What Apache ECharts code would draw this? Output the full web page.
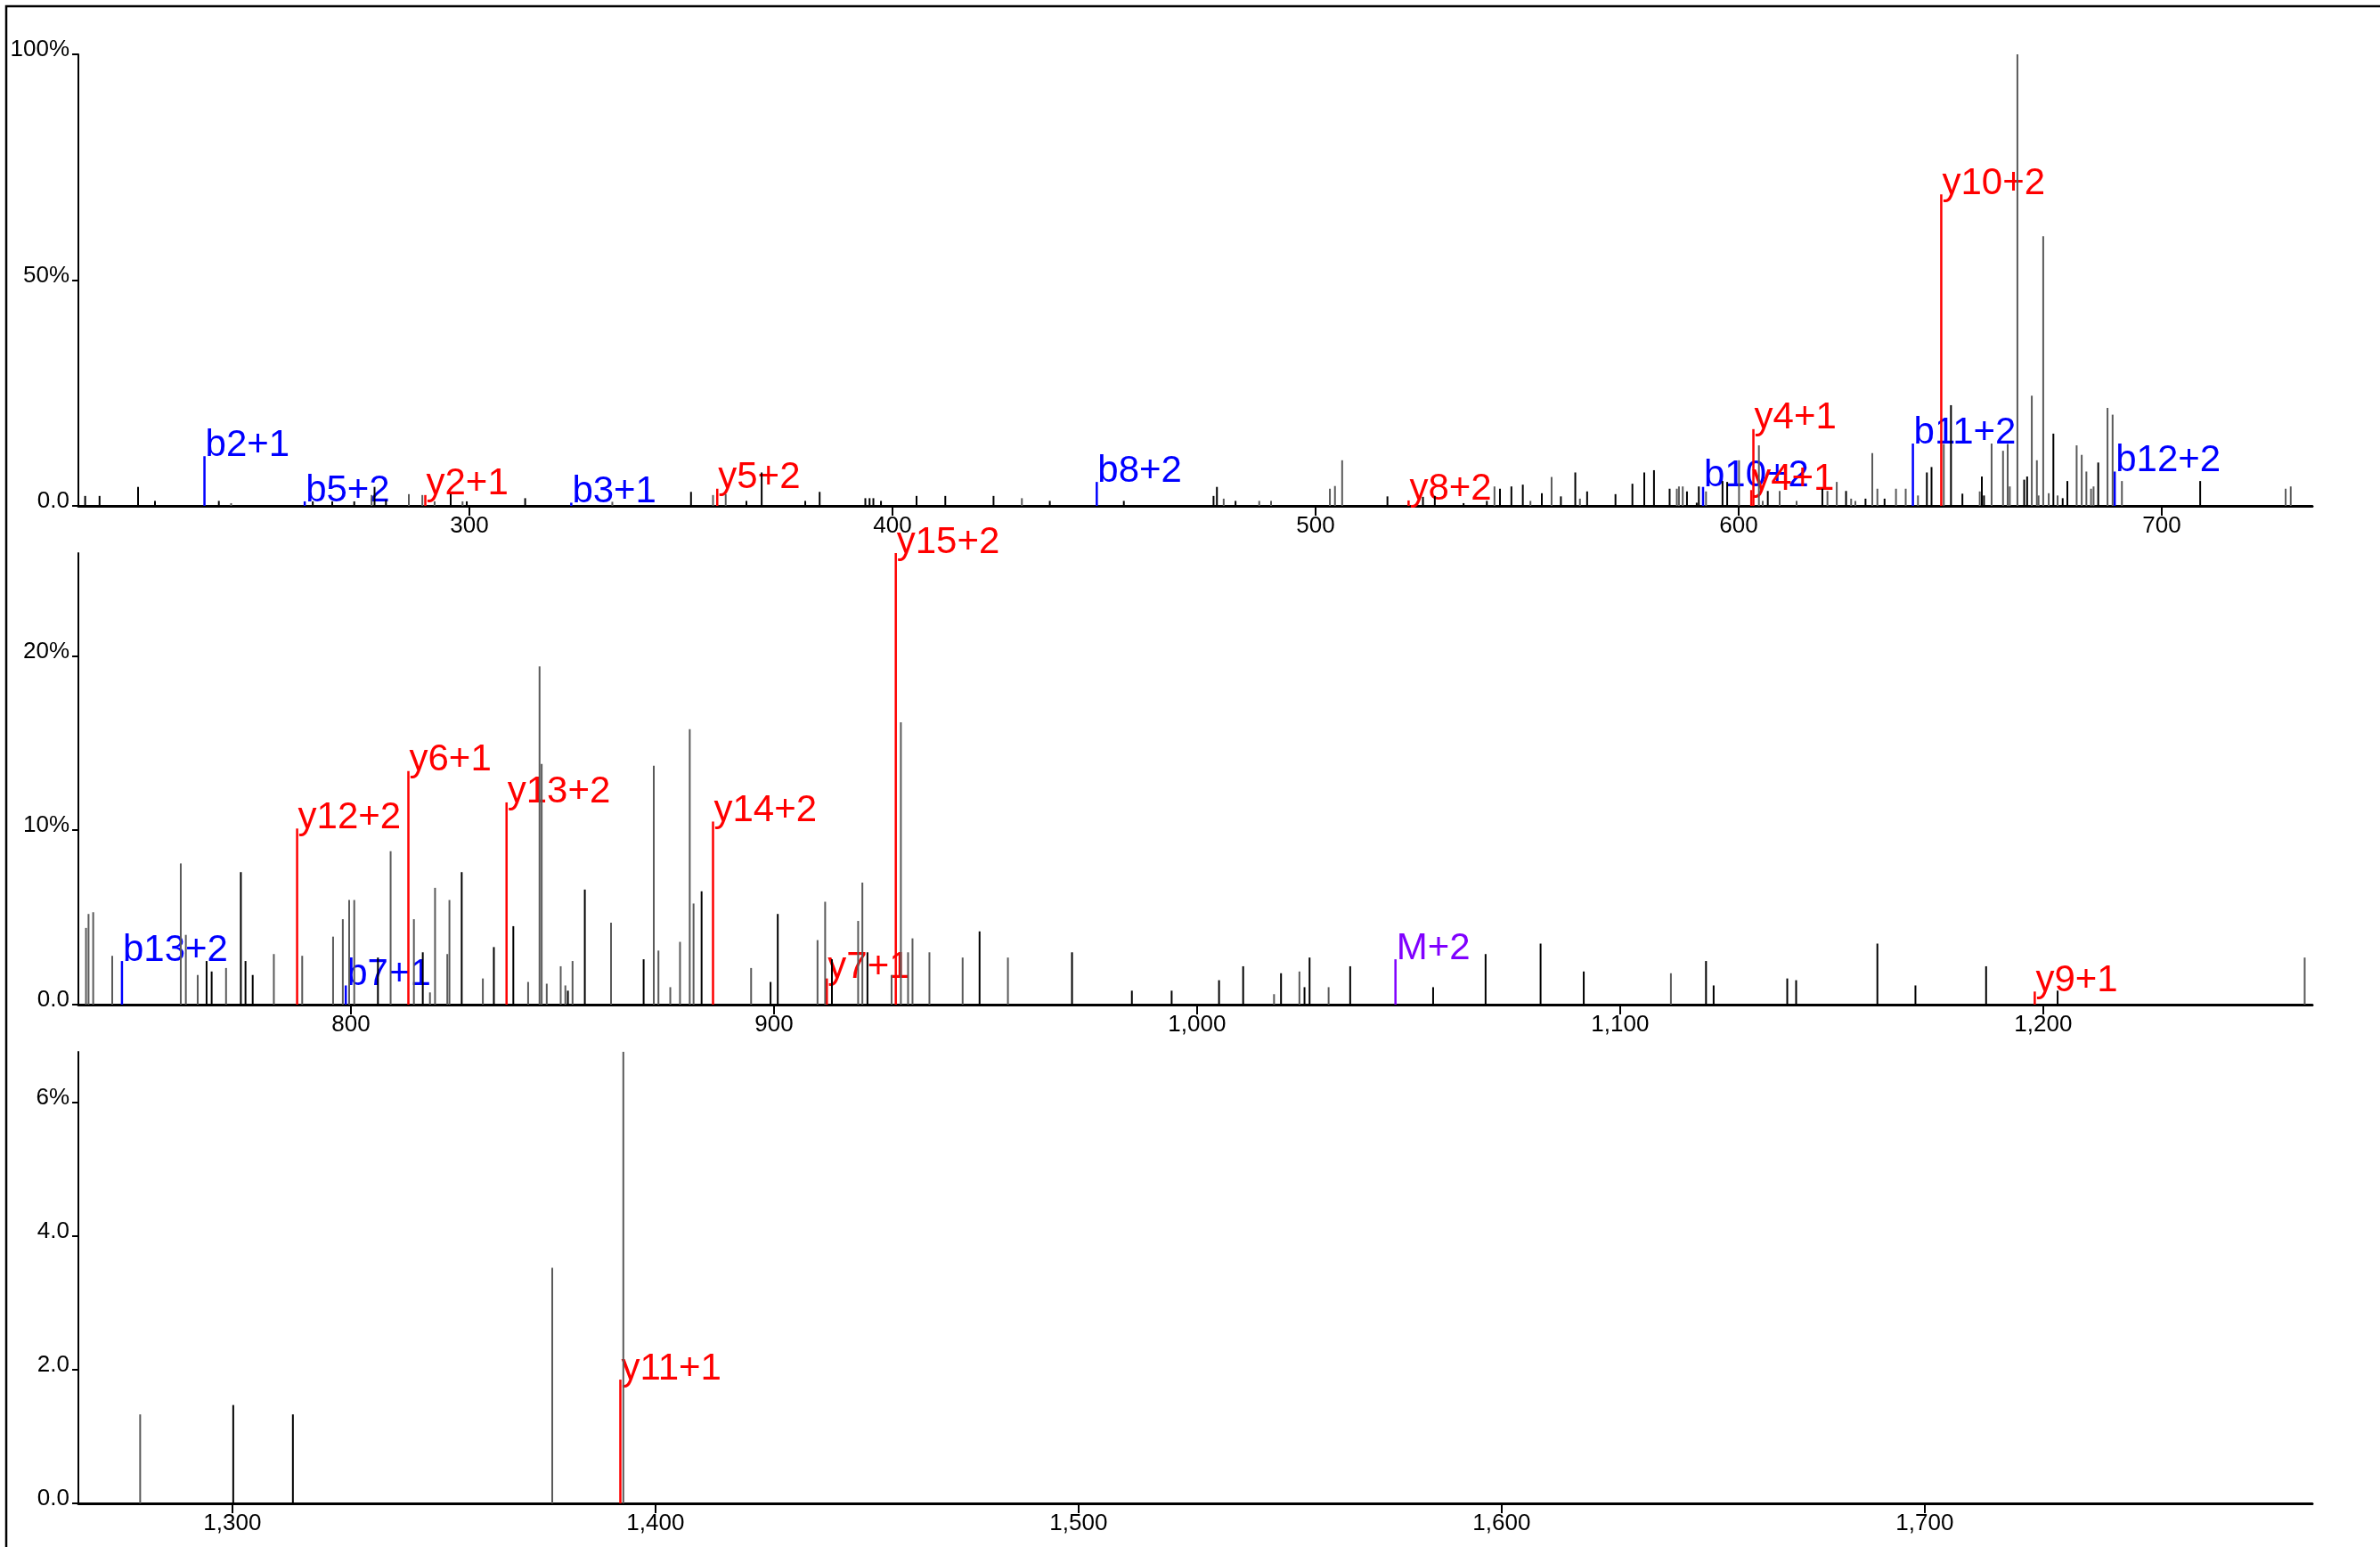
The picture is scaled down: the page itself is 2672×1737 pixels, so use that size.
<!DOCTYPE html>
<html>
<head>
<meta charset="utf-8">
<script src="https://cdn.jsdelivr.net/npm/echarts@6/dist/echarts.min.js"></script>
<style>
html,body{margin:0;padding:0;background:#ffffff;}
#chart{width:2672px;height:1737px;}
</style>
</head>
<body>
<div id="chart"></div>
<script>
// ---------- DATA ----------
// Unannotated peaks: m/z, relative intensity (% of base peak), shade (0 = black, 1 = gray)
const peakMz = [
  209.2,212.6,221.7,225.7,240.8,243.7,263.0,267.6,272.8,276.9,277.6,280.3,285.7,288.9,291.8,295.6,298.4,299.4,
  313.2,333.8,352.4,357.6,360.6,365.5,369.1,379.4,382.8,393.6,394.6,395.5,397.3,405.7,412.5,423.9,430.6,437.2,
  454.7,475.9,476.7,478.3,481.1,486.7,489.5,503.4,504.6,506.3,517.0,525.4,528.2,535.0,540.5,542.3,543.6,546.3,
  549.0,550.8,553.5,555.8,558.0,561.4,562.5,564.2,570.9,574.9,577.7,580.0,583.7,585.4,585.9,586.8,587.8,590.1,
  590.6,592.3,596.2,597.3,600.1,604.8,605.7,606.9,609.7,613.7,619.8,621.0,623.2,625.4,626.6,627.6,630.0,631.6,
  632.8,634.5,637.2,639.5,642.4,644.5,645.6,648.5,650.2,652.9,657.0,657.5,658.0,659.8,662.5,663.6,664.1,665.9,
  667.5,668.2,669.3,670.5,670.9,672.0,673.3,674.4,675.4,676.6,677.7,679.9,681.1,682.2,683.3,683.9,685.0,687.2,
  688.4,690.6,709.1,729.3,730.5,
  737.4,738.0,739.1,743.6,759.8,761.0,763.8,765.9,767.1,770.5,774.0,775.1,776.8,781.8,788.5,795.8,798.1,799.6,
  800.8,806.4,809.4,814.9,817.0,818.7,819.9,822.8,823.3,826.2,831.2,833.8,838.4,841.9,844.6,845.1,846.3,849.6,
  850.7,851.3,852.4,855.3,861.5,869.2,871.6,872.7,875.5,877.8,880.1,881.0,882.9,894.6,899.2,900.9,910.3,912.1,
  913.7,919.9,920.9,922.1,927.8,930.0,931.7,932.75,936.75,944.6,948.6,955.3,970.45,984.6,994.0,1005.2,1010.9,
  1018.2,1019.85,1024.2,1025.4,1026.6,1031.1,1036.2,1055.8,1068.2,1081.2,1091.4,1112.0,1120.3,1122.1,1139.5,
  1141.6,1160.8,1169.8,1186.5,1203.4,1261.8,
  1278.2,1300.2,1314.3,1375.6,1392.4
];
const peakInt = [
  2.2,2.2,4.2,1.1,1.1,0.6,1.0,1.0,1.0,2.4,4.2,1.3,2.6,2.4,1.0,2.6,1.0,1.0,
  1.7,0.9,3.1,2.4,2.6,1.1,7.4,1.1,3.1,1.7,1.7,1.7,1.1,2.2,2.2,2.2,1.7,1.1,
  1.1,2.2,4.2,1.6,1.1,1.1,1.1,3.8,4.4,10.1,2.1,2.0,2.2,0.6,1.1,4.3,3.8,4.3,
  4.7,1.1,2.8,6.4,2.1,7.4,1.6,3.2,2.6,4.9,7.4,7.9,3.8,3.8,4.3,4.3,3.2,0.7,
  4.3,3.2,5.5,5.3,10.1,13.4,1.1,3.3,3.3,1.1,3.8,3.3,5.3,3.3,1.6,1.1,1.6,11.7,
  3.8,1.6,3.8,3.8,2.3,7.4,8.6,13.7,22.3,2.7,3.2,6.5,2.3,13.8,12.2,13.7,4.3,100,
  5.8,6.5,24.4,10.1,2.3,59.7,2.8,16.0,2.3,1.7,5.5,13.4,11.3,7.6,3.8,4.3,9.6,21.7,
  20.2,5.5,5.5,3.8,4.3,
  4.4,5.2,5.3,2.8,8.1,4.0,1.7,2.5,1.9,2.1,7.6,2.5,1.7,2.9,2.8,3.9,4.9,6.0,
  6.0,2.7,8.8,4.9,3.0,0.7,6.7,2.9,6.0,7.6,1.5,3.3,4.5,1.3,19.4,13.8,1.2,2.2,
  1.1,0.8,2.5,6.6,4.7,2.6,13.7,3.1,1.0,3.6,15.8,5.8,6.5,2.1,1.3,5.2,3.7,5.9,
  2.6,4.8,7.0,3.0,1.7,16.2,3.0,3.8,3.0,2.7,4.2,2.7,3.0,0.8,0.8,1.4,2.2,
  0.6,1.8,1.9,1.0,2.7,1.0,2.2,1.0,2.9,3.5,1.9,1.8,2.5,1.1,1.5,
  1.4,3.5,1.1,2.2,0.8,2.7,
  1.33,1.47,1.33,3.52,6.75
];
const peakShade = [
  0,0,0,0,0,1,0,0,0,1,0,0,1,1,1,0,1,0,
  0,1,0,1,1,0,0,0,0,0,0,0,0,0,0,0,1,0,
  0,0,0,1,0,1,1,1,1,1,0,0,0,0,0,1,0,0,
  0,1,0,1,0,0,1,0,0,0,0,0,0,1,1,1,0,0,
  0,1,0,0,1,1,1,0,1,1,0,1,1,0,1,1,0,1,
  1,0,1,1,1,0,0,1,0,0,1,0,0,1,1,1,1,1,
  0,0,1,1,1,1,1,0,1,0,0,1,1,1,1,1,0,1,
  1,1,0,1,1,
  1,1,1,1,1,1,1,0,0,1,0,0,0,1,1,1,1,1,
  1,0,1,1,0,1,1,1,1,0,1,0,0,1,1,1,1,1,
  1,0,1,0,1,0,1,1,1,1,1,1,0,1,0,0,1,1,
  0,1,1,0,1,1,1,1,1,1,0,1,0,0,0,0,0,
  1,0,1,0,0,1,0,0,0,0,0,1,0,0,0,
  0,0,0,0,0,1,
  1,0,0,1,1
];

// Annotated fragment ions
const annMz    = [237.4, 261.1, 289.6, 324.1, 358.6, 448.3, 522.0, 591.6, 603.0, 603.5, 641.2, 647.9, 688.9,
                  745.9, 787.3, 798.8, 813.6, 836.8, 885.6, 912.5, 928.8, 1046.9, 1198.0, 1391.7];
const annInt   = [11.0, 1.0, 2.4, 0.7, 3.8, 5.3, 1.2, 4.2, 3.5, 17.0, 13.8, 69.0, 7.6,
                  2.5, 10.1, 1.1, 13.4, 11.6, 10.5, 1.5, 25.9, 2.6, 0.75, 1.85];
const annLabel = ["b2+1","b5+2","y2+1","b3+1","y5+2","b8+2","y8+2","b10+2","y4+1","y4+1","b11+2","y10+2","b12+2",
                  "b13+2","y12+2","b7+1","y6+1","y13+2","y14+2","y7+1","y15+2","M+2","y9+1","y11+1"];
const annIon   = ["b","b","y","b","y","b","y","b","y","y","b","y","b",
                  "b","y","b","y","y","y","y","y","M","y","y"];

// Panels (m/z windows) and axis ticks
const panelMin = [207.6, 735.6, 1263.6];
const panelMax = [735.6, 1263.6, 1791.6];
const panelYMax = [100, 25.9, 6.75];
const xTicks = [[300,400,500,600,700],[800,900,1000,1100,1200],[1300,1400,1500,1600,1700]];
const xTickLabels = [["300","400","500","600","700"],["800","900","1,000","1,100","1,200"],["1,300","1,400","1,500","1,600","1,700"]];
const yTicks = [[0,50,100],[0,10,20],[0,2,4,6]];
const yTickLabels = [["0.0","50%","100%"],["0.0","10%","20%"],["0.0","2.0","4.0","6%"]];

// ---------- CHART ----------
const FONT = '"Liberation Sans", Arial, Helvetica, sans-serif';
const ionColor = { y: '#ff0000', b: '#0000ff', M: '#8000ff' };
const shadeColor = ['#000000', '#5a5a5a'];

const grids = [], xAxes = [], yAxes = [], series = [];
const gridTop = [61, 621, 1181];
for (let p = 0; p < 3; p++) {
  grids.push({ left: 88, right: 76, top: gridTop[p], height: 507, containLabel: false });
  xAxes.push({
    type: 'value', gridIndex: p, min: panelMin[p], max: panelMax[p],
    splitLine: { show: false },
    axisLine: { show: true, onZero: false, lineStyle: { color: '#000', width: 3 } },
    axisTick: { show: true, customValues: xTicks[p], length: 11, lineStyle: { color: '#000', width: 2 } },
    axisLabel: {
      customValues: xTicks[p], margin: 10, color: '#000', fontSize: 26, fontFamily: FONT,
      formatter: (v) => { const i = xTicks[p].indexOf(v); return i >= 0 ? xTickLabels[p][i] : ''; }
    }
  });
  yAxes.push({
    type: 'value', gridIndex: p, min: 0, max: panelYMax[p],
    splitLine: { show: false },
    axisLine: { show: true, lineStyle: { color: '#000', width: 2 } },
    axisTick: { show: true, customValues: yTicks[p], length: 7, lineStyle: { color: '#000', width: 2 } },
    axisLabel: {
      customValues: yTicks[p], margin: 10, color: '#000', fontSize: 26, fontFamily: FONT,
      verticalAlign: 'bottom', lineHeight: 10,
      formatter: (v) => { const i = yTicks[p].indexOf(v); return i >= 0 ? yTickLabels[p][i] : ''; }
    }
  });

  const annData = [];
  for (let i = 0; i < annMz.length; i++) {
    if (annMz[i] >= panelMin[p] && annMz[i] < panelMax[p]) annData.push([annMz[i], annInt[i], i]);
  }
  series.push({
    type: 'custom', xAxisIndex: p, yAxisIndex: p, z: 2, clip: false,
    encode: { x: 0, y: 1 },
    data: annData,
    renderItem: (params, api) => {
      const i = api.value(2);
      const base = api.coord([api.value(0), 0]);
      const top = api.coord([api.value(0), api.value(1)]);
      const col = ionColor[annIon[i]];
      return {
        type: 'group',
        children: [
          { type: 'line', shape: { x1: base[0], y1: base[1], x2: top[0], y2: top[1] },
            style: { stroke: col, lineWidth: 2.5 } },
          { type: 'text', x: top[0] + 1, y: top[1] + 9,
            style: { text: annLabel[i], fill: col, font: '42px ' + FONT, align: 'left', verticalAlign: 'bottom' } }
        ]
      };
    }
  });

  const pkData = [];
  for (let i = 0; i < peakMz.length; i++) {
    if (peakMz[i] >= panelMin[p] && peakMz[i] < panelMax[p]) pkData.push([peakMz[i], peakInt[i], peakShade[i]]);
  }
  series.push({
    type: 'custom', xAxisIndex: p, yAxisIndex: p, z: 3, clip: false,
    encode: { x: 0, y: 1 },
    data: pkData,
    renderItem: (params, api) => {
      const base = api.coord([api.value(0), 0]);
      const top = api.coord([api.value(0), api.value(1)]);
      return { type: 'line', shape: { x1: base[0], y1: base[1], x2: top[0], y2: top[1] },
               style: { stroke: shadeColor[api.value(2)], lineWidth: 2 } };
    }
  });
}

const chart = echarts.init(document.getElementById('chart'), null, { renderer: 'canvas' });
chart.setOption({
  animation: false,
  backgroundColor: '#ffffff',
  textStyle: { fontFamily: FONT },
  grid: grids, xAxis: xAxes, yAxis: yAxes, series: series,
  graphic: [{
    type: 'rect', silent: true, z: 0,
    shape: { x: 7, y: 7, width: 2800, height: 1900 },
    style: { fill: 'none', stroke: '#000', lineWidth: 2.5 }
  }]
});
</script>
</body>
</html>
